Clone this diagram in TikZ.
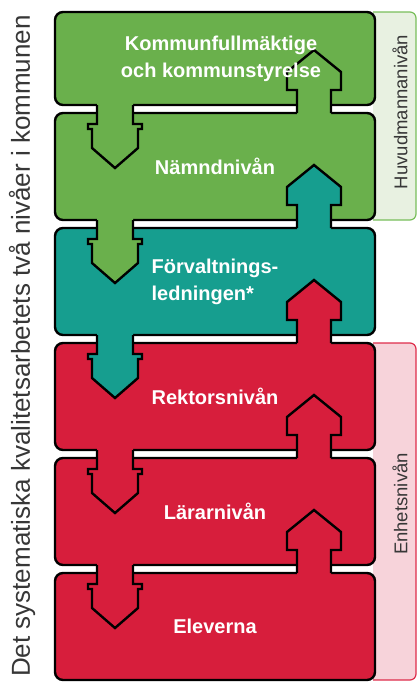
\documentclass[tikz,border=0pt]{standalone}
\usepackage{fontspec}
\setmainfont{Liberation Sans}
\usetikzlibrary{positioning,calc,backgrounds}
\definecolor{kgreen}{RGB}{106,176,76}
\definecolor{kteal}{RGB}{22,158,143}
\definecolor{kred}{RGB}{215,30,60}
\definecolor{bargreen}{RGB}{232,241,225}
\definecolor{bargreenline}{RGB}{120,190,90}
\definecolor{barpink}{RGB}{247,211,218}
\definecolor{barpinkline}{RGB}{222,45,75}
\definecolor{txtgray}{RGB}{55,55,55}
\tikzset{
  lvlbox/.style={draw=black, line width=2.4pt, rounded corners=8pt, minimum width=320pt, minimum height=107pt, inner sep=0pt, outer sep=0pt},
  lvltext/.style={text=white, font=\bfseries\fontsize{20}{27}\selectfont, align=center},
  arrline/.style={draw=black, line width=2.4pt, line join=miter},
  sidebar/.style={line width=1.2pt},
  sidetext/.style={rotate=90, text=txtgray, font=\fontsize{18.5}{20}\selectfont},
  titletext/.style={rotate=90, text=txtgray, font=\fontsize{26}{30}\selectfont}
}
% block arrow down: source box, target box, fill
\newcommand\downarr[3]{%
  \coordinate (arrfrom) at ($(#1.south west)+(60,0)$);
  \coordinate (arrto) at ($(#2.north west)+(60,0)$);
  \fill[#3] ($(arrfrom)+(-18,-3)$) -- ($(arrto)+(-18,11)$) -- ++(-9,0) -- ++(0,5) -- ++(4,0) -- ++(0,19) -- ++(23,20) -- ++(23,-20) -- ++(0,-19) -- ++(4,0) -- ++(0,-5) -- ++(-9,0) -- ($(arrfrom)+(18,-3)$) -- cycle;
  \draw[arrline] ($(arrfrom)+(-18,0)$) -- ($(arrto)+(-18,11)$) -- ++(-9,0) -- ++(0,5) -- ++(4,0) -- ++(0,19) -- ++(23,20) -- ++(23,-20) -- ++(0,-19) -- ++(4,0) -- ++(0,-5) -- ++(-9,0) -- ($(arrfrom)+(18,0)$);
}
% block arrow up: source box, target box, fill
\newcommand\uparr[3]{%
  \coordinate (arrfrom) at ($(#1.north east)+(-61,0)$);
  \coordinate (arrto) at ($(#2.south east)+(-61,0)$);
  \fill[#3] ($(arrfrom)+(-17,3)$) -- ($(arrto)+(-17,-15)$) -- ++(-10,0) -- ++(0,-18) -- ++(27,-22) -- ++(27,22) -- ++(0,18) -- ++(-10,0) -- ($(arrfrom)+(17,3)$) -- cycle;
  \draw[arrline] ($(arrfrom)+(-17,0)$) -- ($(arrto)+(-17,-15)$) -- ++(-10,0) -- ++(0,-18) -- ++(27,-22) -- ++(27,22) -- ++(0,18) -- ++(-10,0) -- ($(arrfrom)+(17,0)$);
}
% side band: top box, bottom box, fill, line
\newcommand\sideband[4]{%
  \coordinate (bandtop) at ($(#1.north east)+(-2,0)$);
  \coordinate (bandbot) at ($(#2.south east)+(-2,0)$);
  \fill[#3] (bandtop) [rounded corners=6pt] -- (rim |- bandtop) -- (rim |- bandbot) [sharp corners] -- (bandbot) -- cycle;
  \draw[sidebar, draw=#4] (bandtop) [rounded corners=6pt] -- (rim |- bandtop) -- (rim |- bandbot) [sharp corners] -- (bandbot);
}

\begin{document}
\begin{tikzpicture}[x=1pt, y=-1pt]
\useasboundingbox (0,0) rectangle (418,683);
\coordinate (rim) at (416,0);

% the six levels
\node[lvlbox, fill=kgreen, minimum height=93pt, anchor=north] (kf) at (215,12) {};
\node[lvlbox, fill=kgreen, below=8pt of kf] (namnd) {};
\node[lvlbox, fill=kteal, below=8pt of namnd] (forv) {};
\node[lvlbox, fill=kred, below=8pt of forv] (rektor) {};
\node[lvlbox, fill=kred, below=8pt of rektor] (larare) {};
\node[lvlbox, fill=kred, below=8pt of larare] (elever) {};

% side bands
\begin{scope}[on background layer]
\sideband{kf}{namnd}{bargreen}{bargreenline}
\sideband{rektor}{elever}{barpink}{barpinkline}
\end{scope}
\node[sidetext] (huvudtxt) at (400,112) {Huvudmannanivån};
\node[sidetext] (enhettxt) at (400,504) {Enhetsnivån};

\node[titletext] (title) at (22,346) {Det systematiska kvalitetsarbetets två nivåer i kommunen};

% arrows between levels
\downarr{kf}{namnd}{kgreen}
\uparr{namnd}{kf}{kgreen}
\downarr{namnd}{forv}{kgreen}
\uparr{forv}{namnd}{kteal}
\downarr{forv}{rektor}{kteal}
\uparr{rektor}{forv}{kred}
\downarr{rektor}{larare}{kred}
\uparr{larare}{rektor}{kred}
\downarr{larare}{elever}{kred}
\uparr{elever}{larare}{kred}

\node[lvltext] (kftxt) at ([xshift=6pt]kf) {Kommunfullmäktige\\och kommunstyrelse};
\node[lvltext] (namndtxt) at (namnd) {Nämndnivån};
\node[lvltext, align=left] (forvtxt) at (forv) {Förvaltnings-\\ledningen*};
\node[lvltext] (rektortxt) at (rektor) {Rektorsnivån};
\node[lvltext] (lararetxt) at (larare) {Lärarnivån};
\node[lvltext] (elevertxt) at (elever) {Eleverna};
\end{tikzpicture}
\end{document}
